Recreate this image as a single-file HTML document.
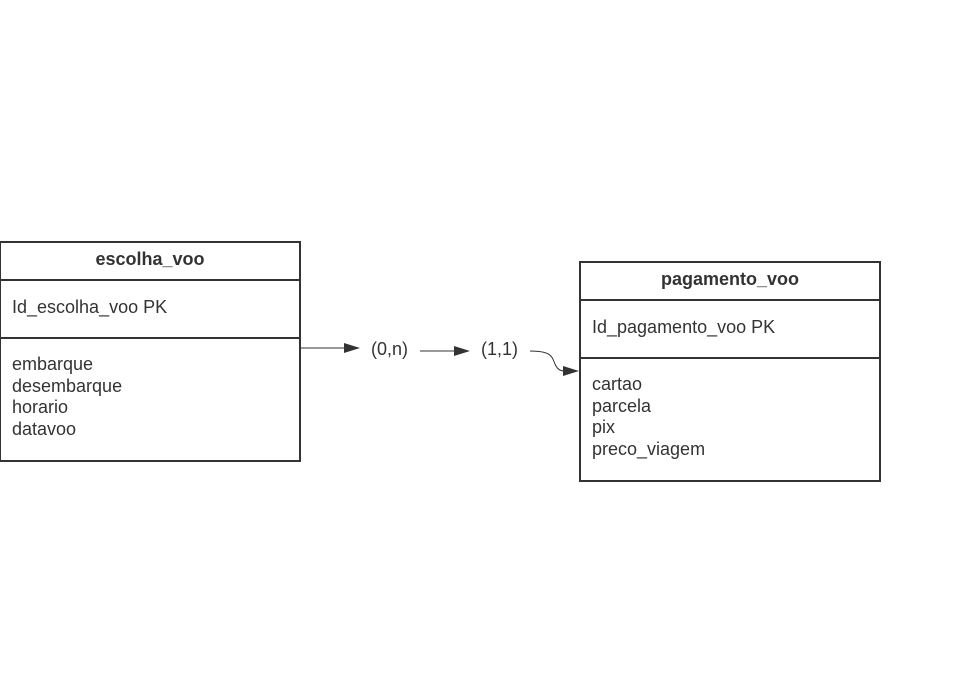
<!DOCTYPE html>
<html><head><style>
body{margin:0;width:958px;height:675px;background:#fff;position:relative;font-family:"Liberation Sans",sans-serif;color:#333;overflow:hidden}
.t{position:absolute;font-size:18px;line-height:21.5px;white-space:nowrap}
</style></head><body>
<svg width="958" height="675" style="position:absolute;left:0;top:0">
<g fill="none" stroke="#333" stroke-width="2">
<rect x="0" y="242" width="300" height="219"/>
<line x1="0" y1="280" x2="300" y2="280"/>
<line x1="0" y1="338" x2="300" y2="338"/>
<rect x="580" y="262" width="300" height="219"/>
<line x1="580" y1="300" x2="880" y2="300"/>
<line x1="580" y1="358" x2="880" y2="358"/>
</g>
<g stroke="#333" stroke-width="1" fill="none">
<line x1="300" y1="348" x2="346" y2="348"/>
<line x1="420" y1="351" x2="456" y2="351"/>
<path d="M530 351 C552 351 552 357 555 364 C558 371 562 371 566 371"/>
</g>
<g fill="#333">
<polygon points="360,348 344,343 344,353"/>
<polygon points="470,351 454,346 454,356"/>
<polygon points="579,371 563,366 563,376"/>
</g>
</svg>
<div class="t" style="left:0;width:300px;top:249px;text-align:center;font-weight:bold">escolha_voo</div>
<div class="t" style="left:12px;top:297px">Id_escolha_voo PK</div>
<div class="t" style="left:12px;top:354px">embarque<br>desembarque<br>horario<br>datavoo</div>
<div class="t" style="left:580px;width:300px;top:269px;text-align:center;font-weight:bold">pagamento_voo</div>
<div class="t" style="left:592px;top:317px">Id_pagamento_voo PK</div>
<div class="t" style="left:592px;top:374px">cartao<br>parcela<br>pix<br>preco_viagem</div>
<div class="t" style="left:371px;top:339px">(0,n)</div>
<div class="t" style="left:481px;top:339px">(1,1)</div>
</body></html>
